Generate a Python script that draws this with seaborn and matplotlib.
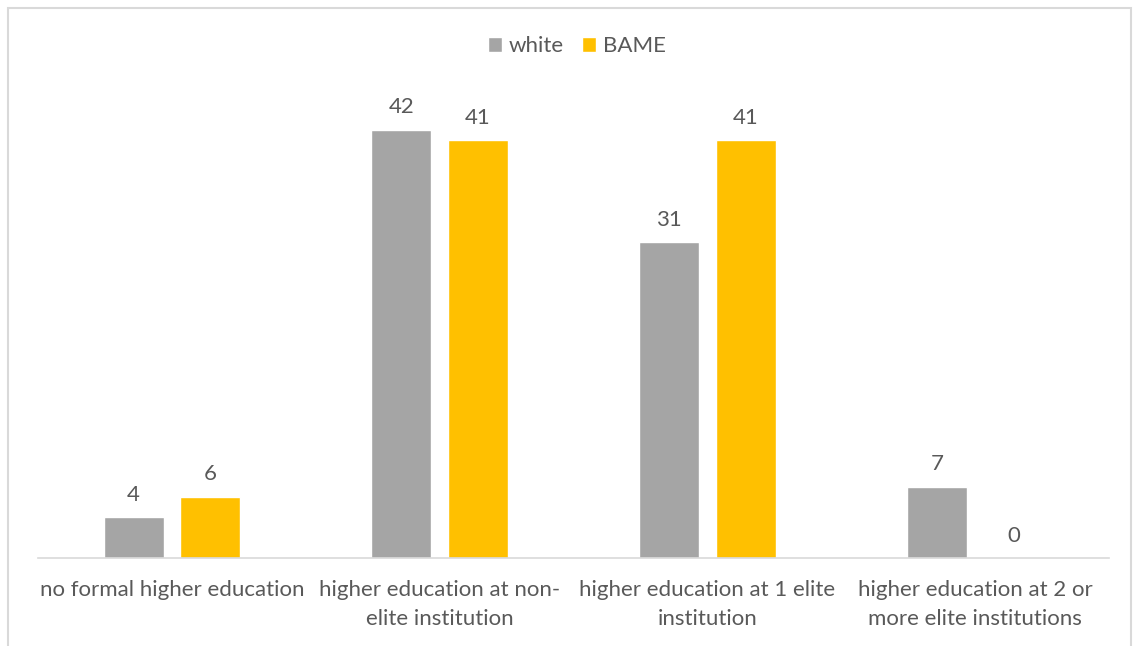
import matplotlib
matplotlib.use("Agg")
import matplotlib.pyplot as plt
import seaborn as sns
import pandas as pd
from matplotlib.patches import Rectangle

categories = ["no formal higher education",
              "higher education at non-\nelite institution",
              "higher education at 1 elite\ninstitution",
              "higher education at 2 or\nmore elite institutions"]
series = ["white", "BAME"]
white_vals = [4, 42, 31, 7]
bame_vals = [6, 41, 41, 0]
colors = ["#A5A5A5", "#FFC000"]

df = pd.DataFrame({
    "category": categories * 2,
    "group": ["white"] * 4 + ["BAME"] * 4,
    "value": white_vals + bame_vals,
})

sns.set_theme(style="white")
plt.rcParams["font.family"] = ["Lato", "DejaVu Sans"]
text_color = "#595959"

W, H = 1139, 646
fig = plt.figure(figsize=(W / 100, H / 100), dpi=100)
ax = fig.add_axes([38 / W, 88 / H, (1109 - 38) / W, 458.6 / H])

sns.barplot(data=df, x="category", y="value", hue="group", hue_order=series,
            palette=colors, width=0.571, gap=0.215, ax=ax, saturation=1,
            errorbar=None)

for c in ax.containers:
    ax.bar_label(c, padding=9, fontsize=16, color=text_color)

ax.set_ylim(0, 45)
ax.set_xlim(-0.5, 3.5)
ax.set_xlabel("")
ax.set_ylabel("")
ax.set_yticks([])
ax.tick_params(axis="x", length=0, pad=16, labelsize=16, labelcolor=text_color)
for lbl in ax.get_xticklabels():
    lbl.set_linespacing(1.55)
for s in ["top", "right", "left"]:
    ax.spines[s].set_visible(False)
ax.spines["bottom"].set_color("#D9D9D9")
ax.spines["bottom"].set_linewidth(1.2)

leg = ax.legend(loc="center", bbox_to_anchor=(577 / W, 1 - 46 / H),
                bbox_transform=fig.transFigure, ncol=2, frameon=False,
                fontsize=16, handlelength=0.65, handleheight=0.65,
                handletextpad=0.3, columnspacing=0.8)
for t in leg.get_texts():
    t.set_color(text_color)

fig.patches.append(Rectangle((8 / W, -0.05), (1131 - 8) / W, 1.05 - 8 / H,
                             transform=fig.transFigure, fill=False,
                             edgecolor="#D9D9D9", linewidth=1.5))

fig.savefig("out.png", dpi=100)
